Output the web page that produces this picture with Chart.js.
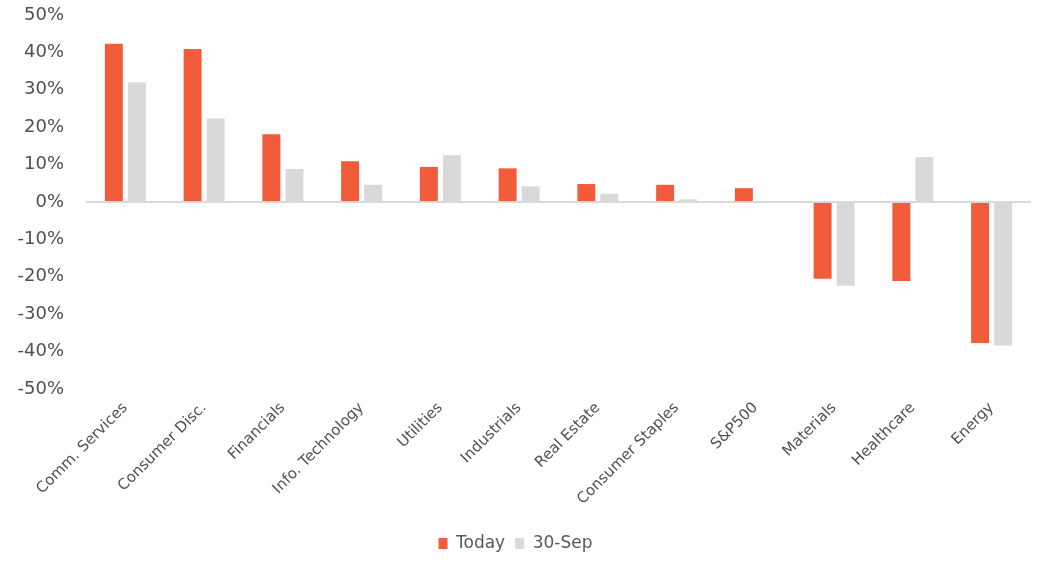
<!DOCTYPE html>
<html>
<head>
<meta charset="utf-8">
<script src="https://cdn.jsdelivr.net/npm/chart.js@4.4.1/dist/chart.umd.min.js"></script>
<style>
  html, body { margin: 0; padding: 0; background: #fff; }
  #wrap { width: 1038px; height: 562px; }
</style>
</head>
<body>
<div id="wrap"><canvas id="myChart" width="1038" height="562"></canvas></div>
<script>
const sectors = ["Comm. Services", "Consumer Disc.", "Financials", "Info. Technology", "Utilities",
  "Industrials", "Real Estate", "Consumer Staples", "S&P500", "Materials", "Healthcare", "Energy"];
const today = [42.3, 40.9, 18.1, 10.9, 9.4, 9.0, 4.8, 4.6, 3.7, -20.5, -21.1, -37.7];
const sep30 = [32.0, 22.3, 8.8, 4.6, 12.5, 4.2, 2.2, 0.7, 0.1, -22.4, 12.0, -38.4];
const yTicks = [50, 40, 30, 20, 10, 0, -10, -20, -30, -40, -50];

const fontFamily = "'DejaVu Sans', 'Open Sans', sans-serif";

new Chart("myChart", {
  type: "bar",
  data: {
    labels: sectors,
    datasets: [{
      label: "Today",
      data: today,
      backgroundColor: "#F15D3A",
      categoryPercentage: 0.585,
      barPercentage: 0.78
    }, {
      label: "30-Sep",
      data: sep30,
      backgroundColor: "#D9D9D9",
      categoryPercentage: 0.585,
      barPercentage: 0.78
    }]
  },
  options: {
    responsive: false,
    animation: false,
    layout: { padding: { top: 15, right: 7, left: 0, bottom: 0 } },
    plugins: {
      tooltip: { enabled: false },
      legend: {
        position: "bottom",
        labels: {
          color: "#595959",
          font: { family: fontFamily, size: 17 },
          boxWidth: 9,
          boxHeight: 11,
          padding: 10
        },
        afterFit: function(legend) { legend.height = 40; }
      }
    },
    scales: {
      x: {
        grid: { display: false },
        border: { display: false },
        ticks: {
          color: "#505050",
          font: { family: fontFamily, size: 15 },
          minRotation: 45,
          maxRotation: 45,
          padding: 2,
          autoSkip: false
        },
        afterFit: function(scale) { scale.height = 136; }
      },
      y: {
        min: -50,
        max: 50,
        afterBuildTicks: function(scale) {
          scale.ticks = yTicks.map(v => ({ value: v }));
        },
        grid: {
          drawTicks: false,
          lineWidth: ctx => (ctx.tick && ctx.tick.value === 0 ? 2 : 0),
          color: "#D9D9D9"
        },
        border: { display: false },
        ticks: {
          color: "#505050",
          font: { family: fontFamily, size: 18 },
          padding: 22,
          callback: v => v + "%"
        },
        afterFit: function(scale) {
          scale.width = 86;
          scale.paddingTop = 0;
          scale.paddingBottom = 0;
        }
      }
    }
  }
});
</script>
</body>
</html>
